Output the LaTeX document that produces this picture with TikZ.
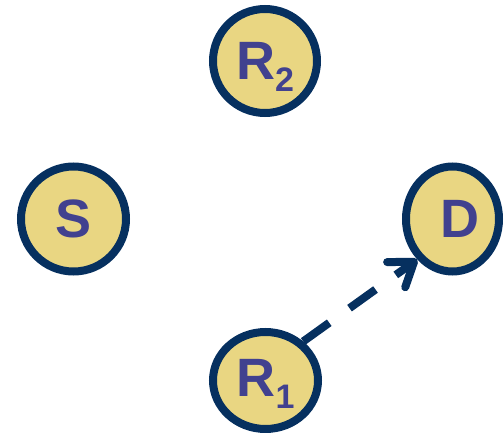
\documentclass[tikz,border=0pt]{standalone}
\usepackage{fontspec}
\setmainfont{Liberation Sans}
\usetikzlibrary{arrows.meta,shapes.geometric}
\definecolor{ringblue}{HTML}{06305F}
\definecolor{discfill}{HTML}{E9D682}
\definecolor{labelblue}{HTML}{41418F}
% lowered index digit that does not change the label's box
\newcommand{\relaysub}[1]{\raisebox{-12pt}[0pt][0pt]{\fontsize{34}{34}\selectfont #1}}
\begin{document}
\begin{tikzpicture}[x=1pt,y=-1pt,
  station/.style={ellipse, draw=ringblue, line width=8pt, fill=discfill,
    inner sep=0pt, text=labelblue, font=\fontsize{54}{54}\selectfont\bfseries},
  hop/.style={draw=ringblue, line width=8pt, dash pattern=on 32pt off 25pt,
    -{Straight Barb[length=22pt,width=31pt,round]}}]
\useasboundingbox (0,0) rectangle (504,433);

\node[station, minimum width=104pt, minimum height=104pt] (R2) at (265,61) {R\relaysub{2}};
\node[station, minimum width=105pt, minimum height=105pt] (S) at (73.5,219) {S};
\node[station, minimum width=93pt, minimum height=105pt] (D) at (452.5,219) {\hspace*{14pt}D};
\node[station, minimum width=105pt, minimum height=97pt] (R1) at (265.5,380.5)
  {\raisebox{3pt}[\height][0pt]{R\relaysub{1}}};

\draw[hop] (R1.46) -- (D.229);
\end{tikzpicture}
\end{document}
